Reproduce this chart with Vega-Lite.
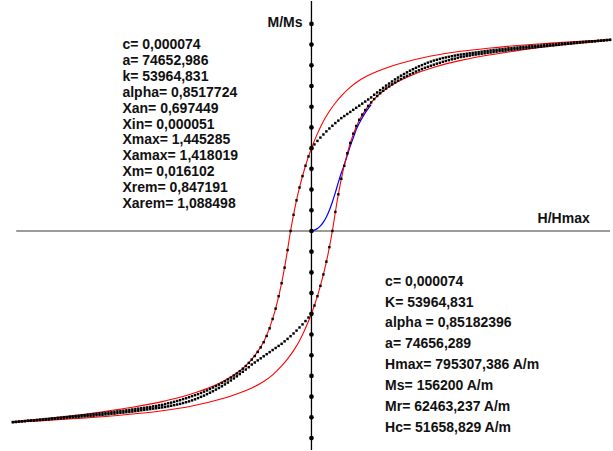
{
"$schema": "https://vega.github.io/schema/vega-lite/v6.json",
"width": 613, "height": 451,
"autosize": {"type": "fit", "contains": "padding"},
"padding": 0,
"background": "white",
"config": {"view": {"stroke": null}},
"datasets": {
"red": [
{"b":"d","h":-1,"m":-0.923},{"b":"d","h":-0.9,"m":-0.908},{"b":"d","h":-0.8,"m":-0.893},{"b":"d","h":-0.7,"m":-0.873},{"b":"d","h":-0.6,"m":-0.851},{"b":"d","h":-0.5,"m":-0.824},{"b":"d","h":-0.45,"m":-0.807},{"b":"d","h":-0.4,"m":-0.786},{"b":"d","h":-0.35,"m":-0.761},{"b":"d","h":-0.3,"m":-0.729},{"b":"d","h":-0.25,"m":-0.686},{"b":"d","h":-0.22,"m":-0.651},{"b":"d","h":-0.19,"m":-0.602},{"b":"d","h":-0.16,"m":-0.535},{"b":"d","h":-0.14,"m":-0.467},{"b":"d","h":-0.12,"m":-0.375},{"b":"d","h":-0.1,"m":-0.252},{"b":"d","h":-0.085,"m":-0.135},{"b":"d","h":-0.07,"m":0},{"b":"d","h":-0.055,"m":0.115},{"b":"d","h":-0.04,"m":0.21},{"b":"d","h":-0.02,"m":0.315},{"b":"d","h":0,"m":0.4},{"b":"d","h":0.02,"m":0.47},{"b":"d","h":0.04,"m":0.53},{"b":"d","h":0.06,"m":0.578},{"b":"d","h":0.08,"m":0.618},{"b":"d","h":0.1,"m":0.652},{"b":"d","h":0.13,"m":0.695},{"b":"d","h":0.16,"m":0.727},{"b":"d","h":0.2,"m":0.758},{"b":"d","h":0.25,"m":0.787},{"b":"d","h":0.3,"m":0.81},{"b":"d","h":0.4,"m":0.845},{"b":"d","h":0.5,"m":0.868},{"b":"d","h":0.6,"m":0.884},{"b":"d","h":0.7,"m":0.897},{"b":"d","h":0.8,"m":0.907},{"b":"d","h":0.9,"m":0.916},{"b":"d","h":1,"m":0.923},
{"b":"a","h":1,"m":0.923},{"b":"a","h":0.9,"m":0.908},{"b":"a","h":0.8,"m":0.893},{"b":"a","h":0.7,"m":0.873},{"b":"a","h":0.6,"m":0.851},{"b":"a","h":0.5,"m":0.824},{"b":"a","h":0.45,"m":0.807},{"b":"a","h":0.4,"m":0.786},{"b":"a","h":0.35,"m":0.761},{"b":"a","h":0.3,"m":0.729},{"b":"a","h":0.25,"m":0.686},{"b":"a","h":0.22,"m":0.651},{"b":"a","h":0.19,"m":0.602},{"b":"a","h":0.16,"m":0.535},{"b":"a","h":0.14,"m":0.467},{"b":"a","h":0.12,"m":0.375},{"b":"a","h":0.1,"m":0.252},{"b":"a","h":0.085,"m":0.135},{"b":"a","h":0.07,"m":0},{"b":"a","h":0.055,"m":-0.115},{"b":"a","h":0.04,"m":-0.21},{"b":"a","h":0.02,"m":-0.315},{"b":"a","h":0,"m":-0.4},{"b":"a","h":-0.02,"m":-0.47},{"b":"a","h":-0.04,"m":-0.53},{"b":"a","h":-0.06,"m":-0.578},{"b":"a","h":-0.08,"m":-0.618},{"b":"a","h":-0.1,"m":-0.652},{"b":"a","h":-0.13,"m":-0.695},{"b":"a","h":-0.16,"m":-0.727},{"b":"a","h":-0.2,"m":-0.758},{"b":"a","h":-0.25,"m":-0.787},{"b":"a","h":-0.3,"m":-0.81},{"b":"a","h":-0.4,"m":-0.845},{"b":"a","h":-0.5,"m":-0.868},{"b":"a","h":-0.6,"m":-0.884},{"b":"a","h":-0.7,"m":-0.897},{"b":"a","h":-0.8,"m":-0.907},{"b":"a","h":-0.9,"m":-0.916},{"b":"a","h":-1,"m":-0.923}
],
"blue": [
{"h":0,"m":0},{"h":0.01,"m":0.004},{"h":0.02,"m":0.012},{"h":0.03,"m":0.025},{"h":0.04,"m":0.043},{"h":0.05,"m":0.068},{"h":0.06,"m":0.1},{"h":0.07,"m":0.14},{"h":0.08,"m":0.185},{"h":0.09,"m":0.235},{"h":0.1,"m":0.28},{"h":0.11,"m":0.32},{"h":0.12,"m":0.365},{"h":0.13,"m":0.41},{"h":0.14,"m":0.45},{"h":0.15,"m":0.49},{"h":0.16,"m":0.52},{"h":0.18,"m":0.57},{"h":0.2,"m":0.61}
],
"ticks": [
{"m":-1},{"m":-0.9},{"m":-0.8},{"m":-0.7},{"m":-0.6},{"m":-0.5},{"m":-0.4},{"m":-0.3},{"m":-0.2},{"m":-0.1},{"m":0},{"m":0.1},{"m":0.2},{"m":0.3},{"m":0.4},{"m":0.5},{"m":0.6},{"m":0.7},{"m":0.8},{"m":0.9},{"m":1}
],
"dots": [
{"h":-1,"m":-0.923},{"h":-0.99,"m":-0.922},{"h":-0.98,"m":-0.92},{"h":-0.97,"m":-0.919},{"h":-0.96,"m":-0.918},{"h":-0.95,"m":-0.916},{"h":-0.94,"m":-0.915},{"h":-0.93,"m":-0.914},{"h":-0.92,"m":-0.912},{"h":-0.91,"m":-0.911},
{"h":-0.9,"m":-0.91},{"h":-0.89,"m":-0.908},{"h":-0.88,"m":-0.907},{"h":-0.87,"m":-0.905},{"h":-0.86,"m":-0.904},{"h":-0.85,"m":-0.902},{"h":-0.84,"m":-0.901},{"h":-0.83,"m":-0.899},{"h":-0.82,"m":-0.898},{"h":-0.81,"m":-0.896},
{"h":-0.8,"m":-0.895},{"h":-0.79,"m":-0.893},{"h":-0.78,"m":-0.892},{"h":-0.77,"m":-0.89},{"h":-0.76,"m":-0.889},{"h":-0.75,"m":-0.887},{"h":-0.74,"m":-0.886},{"h":-0.73,"m":-0.884},{"h":-0.72,"m":-0.883},{"h":-0.71,"m":-0.881},
{"h":-0.7,"m":-0.88},{"h":-0.69,"m":-0.878},{"h":-0.68,"m":-0.876},{"h":-0.67,"m":-0.875},{"h":-0.66,"m":-0.873},{"h":-0.65,"m":-0.871},{"h":-0.64,"m":-0.869},{"h":-0.63,"m":-0.868},{"h":-0.62,"m":-0.866},{"h":-0.61,"m":-0.864},
{"h":-0.6,"m":-0.862},{"h":-0.59,"m":-0.86},{"h":-0.58,"m":-0.858},{"h":-0.57,"m":-0.856},{"h":-0.56,"m":-0.854},{"h":-0.55,"m":-0.852},{"h":-0.54,"m":-0.85},{"h":-0.53,"m":-0.847},{"h":-0.52,"m":-0.845},{"h":-0.51,"m":-0.842},
{"h":-0.5,"m":-0.84},{"h":-0.49,"m":-0.836},{"h":-0.48,"m":-0.832},{"h":-0.47,"m":-0.829},{"h":-0.46,"m":-0.825},{"h":-0.45,"m":-0.821},{"h":-0.44,"m":-0.817},{"h":-0.43,"m":-0.812},{"h":-0.42,"m":-0.808},{"h":-0.41,"m":-0.803},
{"h":-0.4,"m":-0.798},{"h":-0.39,"m":-0.793},{"h":-0.38,"m":-0.788},{"h":-0.37,"m":-0.782},{"h":-0.36,"m":-0.776},{"h":-0.35,"m":-0.77},{"h":-0.34,"m":-0.763},{"h":-0.33,"m":-0.756},{"h":-0.32,"m":-0.749},{"h":-0.31,"m":-0.742},
{"h":-0.3,"m":-0.734},{"h":-0.29,"m":-0.726},{"h":-0.28,"m":-0.717},{"h":-0.27,"m":-0.708},{"h":-0.26,"m":-0.698},{"h":-0.25,"m":-0.688},{"h":-0.24,"m":-0.677},{"h":-0.23,"m":-0.665},{"h":-0.22,"m":-0.652},{"h":-0.21,"m":-0.637},
{"h":-0.2,"m":-0.621},{"h":-0.19,"m":-0.604},{"h":-0.18,"m":-0.584},{"h":-0.17,"m":-0.562},{"h":-0.16,"m":-0.537},{"h":-0.15,"m":-0.507},{"h":-0.14,"m":-0.47},{"h":-0.13,"m":-0.425},{"h":-0.12,"m":-0.375},{"h":-0.11,"m":-0.315},
{"h":-0.1,"m":-0.252},{"h":-0.09,"m":-0.177},{"h":-0.08,"m":-0.092},{"h":-0.07,"m":0},{"h":-0.06,"m":0.078},{"h":-0.05,"m":0.148},{"h":-0.04,"m":0.21},{"h":-0.03,"m":0.265},{"h":-0.02,"m":0.315},{"h":-0.01,"m":0.36},
{"h":0,"m":0.4},{"h":0.01,"m":0.418},{"h":0.02,"m":0.435},{"h":0.03,"m":0.451},{"h":0.04,"m":0.466},{"h":0.05,"m":0.481},{"h":0.06,"m":0.495},{"h":0.07,"m":0.508},{"h":0.08,"m":0.521},{"h":0.09,"m":0.533},
{"h":0.1,"m":0.545},{"h":0.11,"m":0.555},{"h":0.12,"m":0.565},{"h":0.13,"m":0.575},{"h":0.14,"m":0.585},{"h":0.15,"m":0.595},{"h":0.16,"m":0.605},{"h":0.17,"m":0.615},{"h":0.18,"m":0.625},{"h":0.19,"m":0.635},
{"h":0.2,"m":0.645},{"h":0.21,"m":0.658},{"h":0.22,"m":0.669},{"h":0.23,"m":0.68},{"h":0.24,"m":0.691},{"h":0.25,"m":0.702},{"h":0.26,"m":0.712},{"h":0.27,"m":0.722},{"h":0.28,"m":0.732},{"h":0.29,"m":0.741},
{"h":0.3,"m":0.75},{"h":0.31,"m":0.758},{"h":0.32,"m":0.766},{"h":0.33,"m":0.774},{"h":0.34,"m":0.781},{"h":0.35,"m":0.788},{"h":0.36,"m":0.795},{"h":0.37,"m":0.801},{"h":0.38,"m":0.807},{"h":0.39,"m":0.813},
{"h":0.4,"m":0.818},{"h":0.41,"m":0.823},{"h":0.42,"m":0.827},{"h":0.43,"m":0.831},{"h":0.44,"m":0.835},{"h":0.45,"m":0.838},{"h":0.46,"m":0.841},{"h":0.47,"m":0.844},{"h":0.48,"m":0.847},{"h":0.49,"m":0.85},
{"h":0.5,"m":0.852},{"h":0.51,"m":0.854},{"h":0.52,"m":0.856},{"h":0.53,"m":0.858},{"h":0.54,"m":0.86},{"h":0.55,"m":0.862},{"h":0.56,"m":0.864},{"h":0.57,"m":0.866},{"h":0.58,"m":0.868},{"h":0.59,"m":0.87},
{"h":0.6,"m":0.872},{"h":0.61,"m":0.874},{"h":0.62,"m":0.875},{"h":0.63,"m":0.877},{"h":0.64,"m":0.878},{"h":0.65,"m":0.88},{"h":0.66,"m":0.882},{"h":0.67,"m":0.883},{"h":0.68,"m":0.885},{"h":0.69,"m":0.886},
{"h":0.7,"m":0.888},{"h":0.71,"m":0.889},{"h":0.72,"m":0.89},{"h":0.73,"m":0.892},{"h":0.74,"m":0.893},{"h":0.75,"m":0.894},{"h":0.76,"m":0.895},{"h":0.77,"m":0.896},{"h":0.78,"m":0.898},{"h":0.79,"m":0.899},
{"h":0.8,"m":0.9},{"h":0.81,"m":0.901},{"h":0.82,"m":0.902},{"h":0.83,"m":0.904},{"h":0.84,"m":0.905},{"h":0.85,"m":0.906},{"h":0.86,"m":0.907},{"h":0.87,"m":0.908},{"h":0.88,"m":0.91},{"h":0.89,"m":0.911},
{"h":0.9,"m":0.912},{"h":0.91,"m":0.913},{"h":0.92,"m":0.914},{"h":0.93,"m":0.915},{"h":0.94,"m":0.916},{"h":0.95,"m":0.917},{"h":0.96,"m":0.918},{"h":0.97,"m":0.919},{"h":0.98,"m":0.921},{"h":0.99,"m":0.922},{"h":1,"m":0.923},
{"h":1,"m":0.923},{"h":0.99,"m":0.922},{"h":0.98,"m":0.92},{"h":0.97,"m":0.919},{"h":0.96,"m":0.918},{"h":0.95,"m":0.916},{"h":0.94,"m":0.915},{"h":0.93,"m":0.914},{"h":0.92,"m":0.912},{"h":0.91,"m":0.911},
{"h":0.9,"m":0.91},{"h":0.89,"m":0.908},{"h":0.88,"m":0.907},{"h":0.87,"m":0.905},{"h":0.86,"m":0.904},{"h":0.85,"m":0.902},{"h":0.84,"m":0.901},{"h":0.83,"m":0.899},{"h":0.82,"m":0.898},{"h":0.81,"m":0.896},
{"h":0.8,"m":0.895},{"h":0.79,"m":0.893},{"h":0.78,"m":0.892},{"h":0.77,"m":0.89},{"h":0.76,"m":0.889},{"h":0.75,"m":0.887},{"h":0.74,"m":0.886},{"h":0.73,"m":0.884},{"h":0.72,"m":0.883},{"h":0.71,"m":0.881},
{"h":0.7,"m":0.88},{"h":0.69,"m":0.878},{"h":0.68,"m":0.876},{"h":0.67,"m":0.875},{"h":0.66,"m":0.873},{"h":0.65,"m":0.871},{"h":0.64,"m":0.869},{"h":0.63,"m":0.868},{"h":0.62,"m":0.866},{"h":0.61,"m":0.864},
{"h":0.6,"m":0.862},{"h":0.59,"m":0.86},{"h":0.58,"m":0.858},{"h":0.57,"m":0.856},{"h":0.56,"m":0.854},{"h":0.55,"m":0.852},{"h":0.54,"m":0.85},{"h":0.53,"m":0.847},{"h":0.52,"m":0.845},{"h":0.51,"m":0.842},
{"h":0.5,"m":0.84},{"h":0.49,"m":0.836},{"h":0.48,"m":0.832},{"h":0.47,"m":0.829},{"h":0.46,"m":0.825},{"h":0.45,"m":0.821},{"h":0.44,"m":0.817},{"h":0.43,"m":0.812},{"h":0.42,"m":0.808},{"h":0.41,"m":0.803},
{"h":0.4,"m":0.798},{"h":0.39,"m":0.793},{"h":0.38,"m":0.788},{"h":0.37,"m":0.782},{"h":0.36,"m":0.776},{"h":0.35,"m":0.77},{"h":0.34,"m":0.763},{"h":0.33,"m":0.756},{"h":0.32,"m":0.749},{"h":0.31,"m":0.742},
{"h":0.3,"m":0.734},{"h":0.29,"m":0.726},{"h":0.28,"m":0.717},{"h":0.27,"m":0.708},{"h":0.26,"m":0.698},{"h":0.25,"m":0.688},{"h":0.24,"m":0.677},{"h":0.23,"m":0.665},{"h":0.22,"m":0.652},{"h":0.21,"m":0.637},
{"h":0.2,"m":0.621},{"h":0.19,"m":0.604},{"h":0.18,"m":0.584},{"h":0.17,"m":0.562},{"h":0.16,"m":0.537},{"h":0.15,"m":0.507},{"h":0.14,"m":0.47},{"h":0.13,"m":0.425},{"h":0.12,"m":0.375},{"h":0.11,"m":0.315},
{"h":0.1,"m":0.252},{"h":0.09,"m":0.177},{"h":0.08,"m":0.092},{"h":0.07,"m":0},{"h":0.06,"m":-0.078},{"h":0.05,"m":-0.148},{"h":0.04,"m":-0.21},{"h":0.03,"m":-0.265},{"h":0.02,"m":-0.315},{"h":0.01,"m":-0.36},
{"h":0,"m":-0.4},{"h":-0.01,"m":-0.418},{"h":-0.02,"m":-0.435},{"h":-0.03,"m":-0.451},{"h":-0.04,"m":-0.466},{"h":-0.05,"m":-0.481},{"h":-0.06,"m":-0.495},{"h":-0.07,"m":-0.508},{"h":-0.08,"m":-0.521},{"h":-0.09,"m":-0.533},
{"h":-0.1,"m":-0.545},{"h":-0.11,"m":-0.555},{"h":-0.12,"m":-0.565},{"h":-0.13,"m":-0.575},{"h":-0.14,"m":-0.585},{"h":-0.15,"m":-0.595},{"h":-0.16,"m":-0.605},{"h":-0.17,"m":-0.615},{"h":-0.18,"m":-0.625},{"h":-0.19,"m":-0.635},
{"h":-0.2,"m":-0.645},{"h":-0.21,"m":-0.658},{"h":-0.22,"m":-0.669},{"h":-0.23,"m":-0.68},{"h":-0.24,"m":-0.691},{"h":-0.25,"m":-0.702},{"h":-0.26,"m":-0.712},{"h":-0.27,"m":-0.722},{"h":-0.28,"m":-0.732},{"h":-0.29,"m":-0.741},
{"h":-0.3,"m":-0.75},{"h":-0.31,"m":-0.758},{"h":-0.32,"m":-0.766},{"h":-0.33,"m":-0.774},{"h":-0.34,"m":-0.781},{"h":-0.35,"m":-0.788},{"h":-0.36,"m":-0.795},{"h":-0.37,"m":-0.801},{"h":-0.38,"m":-0.807},{"h":-0.39,"m":-0.813},
{"h":-0.4,"m":-0.818},{"h":-0.41,"m":-0.823},{"h":-0.42,"m":-0.827},{"h":-0.43,"m":-0.831},{"h":-0.44,"m":-0.835},{"h":-0.45,"m":-0.838},{"h":-0.46,"m":-0.841},{"h":-0.47,"m":-0.844},{"h":-0.48,"m":-0.847},{"h":-0.49,"m":-0.85},
{"h":-0.5,"m":-0.852},{"h":-0.51,"m":-0.854},{"h":-0.52,"m":-0.856},{"h":-0.53,"m":-0.858},{"h":-0.54,"m":-0.86},{"h":-0.55,"m":-0.862},{"h":-0.56,"m":-0.864},{"h":-0.57,"m":-0.866},{"h":-0.58,"m":-0.868},{"h":-0.59,"m":-0.87},
{"h":-0.6,"m":-0.872},{"h":-0.61,"m":-0.874},{"h":-0.62,"m":-0.875},{"h":-0.63,"m":-0.877},{"h":-0.64,"m":-0.878},{"h":-0.65,"m":-0.88},{"h":-0.66,"m":-0.882},{"h":-0.67,"m":-0.883},{"h":-0.68,"m":-0.885},{"h":-0.69,"m":-0.886},
{"h":-0.7,"m":-0.888},{"h":-0.71,"m":-0.889},{"h":-0.72,"m":-0.89},{"h":-0.73,"m":-0.892},{"h":-0.74,"m":-0.893},{"h":-0.75,"m":-0.894},{"h":-0.76,"m":-0.895},{"h":-0.77,"m":-0.896},{"h":-0.78,"m":-0.898},{"h":-0.79,"m":-0.899},
{"h":-0.8,"m":-0.9},{"h":-0.81,"m":-0.901},{"h":-0.82,"m":-0.902},{"h":-0.83,"m":-0.904},{"h":-0.84,"m":-0.905},{"h":-0.85,"m":-0.906},{"h":-0.86,"m":-0.907},{"h":-0.87,"m":-0.908},{"h":-0.88,"m":-0.91},{"h":-0.89,"m":-0.911},
{"h":-0.9,"m":-0.912},{"h":-0.91,"m":-0.913},{"h":-0.92,"m":-0.914},{"h":-0.93,"m":-0.915},{"h":-0.94,"m":-0.916},{"h":-0.95,"m":-0.917},{"h":-0.96,"m":-0.918},{"h":-0.97,"m":-0.919},{"h":-0.98,"m":-0.921},{"h":-0.99,"m":-0.922},{"h":-1,"m":-0.923}
]
},
"layer": [
{"data": {"values": [{}]},
 "mark": {"type": "rule", "color": "#7a7a7a", "strokeWidth": 1.6},
 "encoding": {
  "x": {"datum": -0.989, "type": "quantitative", "scale": {"domain": [-1.0433, 1.0], "nice": false, "zero": false}, "axis": null},
  "x2": {"datum": 1.0},
  "y": {"datum": 0, "type": "quantitative", "scale": {"domain": [-1.0577, 1.1106], "nice": false, "zero": false}, "axis": null}}},
{"data": {"values": [{}]},
 "mark": {"type": "rule", "color": "#000000", "strokeWidth": 1.3},
 "encoding": {
  "x": {"datum": 0, "type": "quantitative", "scale": {"domain": [-1.0433, 1.0], "nice": false, "zero": false}, "axis": null}}},
{"data": {"name": "blue"},
 "mark": {"type": "line", "color": "#0000ff", "strokeWidth": 1.2, "interpolate": "monotone"},
 "encoding": {
  "x": {"field": "h", "type": "quantitative", "scale": {"domain": [-1.0433, 1.0], "nice": false, "zero": false}, "axis": null},
  "y": {"field": "m", "type": "quantitative", "scale": {"domain": [-1.0577, 1.1106], "nice": false, "zero": false}, "axis": null}}},
{"data": {"name": "red"},
 "mark": {"type": "line", "color": "#ff0000", "strokeWidth": 1.1, "interpolate": "monotone"},
 "encoding": {
  "x": {"field": "h", "type": "quantitative", "scale": {"domain": [-1.0433, 1.0], "nice": false, "zero": false}, "axis": null},
  "y": {"field": "m", "type": "quantitative", "scale": {"domain": [-1.0577, 1.1106], "nice": false, "zero": false}, "axis": null},
  "detail": {"field": "b", "type": "nominal"}}},
{"data": {"name": "dots"},
 "mark": {"type": "point", "shape": "square", "filled": true, "size": 6, "color": "#000000", "opacity": 1},
 "encoding": {
  "x": {"field": "h", "type": "quantitative", "scale": {"domain": [-1.0433, 1.0], "nice": false, "zero": false}, "axis": null},
  "y": {"field": "m", "type": "quantitative", "scale": {"domain": [-1.0577, 1.1106], "nice": false, "zero": false}, "axis": null}}},
{"data": {"name": "ticks"},
 "mark": {"type": "point", "shape": "circle", "filled": true, "size": 22, "color": "#000000", "opacity": 1},
 "encoding": {
  "x": {"datum": 0, "type": "quantitative", "scale": {"domain": [-1.0433, 1.0], "nice": false, "zero": false}, "axis": null},
  "y": {"field": "m", "type": "quantitative", "scale": {"domain": [-1.0577, 1.1106], "nice": false, "zero": false}, "axis": null}}},
{"data": {"values": [{"txt": "c= 0,000074\na= 74652,986\nk= 53964,831\nalpha= 0,8517724\nXan= 0,697449\nXin= 0,000051\nXmax= 1,445285\nXamax= 1,418019\nXm= 0,016102\nXrem= 0,847191\nXarem= 1,088498"}]},
 "mark": {"type": "text", "font": "Liberation Sans", "fontWeight": "bold", "fontSize": 14, "color": "#111111", "align": "left", "baseline": "alphabetic", "lineBreak": "\n", "lineHeight": 15.95},
 "encoding": {
  "x": {"datum": -0.6333, "type": "quantitative", "scale": {"domain": [-1.0433, 1.0], "nice": false, "zero": false}, "axis": null},
  "y": {"datum": 0.8798, "type": "quantitative", "scale": {"domain": [-1.0577, 1.1106], "nice": false, "zero": false}, "axis": null},
  "text": {"field": "txt"}}},
{"data": {"values": [{"txt": "c= 0,000074\nK= 53964,831\nalpha = 0,85182396\na= 74656,289\nHmax= 795307,386 A/m\nMs= 156200 A/m\nMr= 62463,237 A/m\nHc= 51658,829 A/m"}]},
 "mark": {"type": "text", "font": "Liberation Sans", "fontWeight": "bold", "fontSize": 14, "color": "#111111", "align": "left", "baseline": "alphabetic", "lineBreak": "\n", "lineHeight": 20.86},
 "encoding": {
  "x": {"datum": 0.2467, "type": "quantitative", "scale": {"domain": [-1.0433, 1.0], "nice": false, "zero": false}, "axis": null},
  "y": {"datum": -0.2644, "type": "quantitative", "scale": {"domain": [-1.0577, 1.1106], "nice": false, "zero": false}, "axis": null},
  "text": {"field": "txt"}}},
{"data": {"values": [{"txt": "M/Ms"}]},
 "mark": {"type": "text", "font": "Liberation Sans", "fontWeight": "bold", "fontSize": 14, "color": "#111111", "align": "right", "baseline": "alphabetic"},
 "encoding": {
  "x": {"datum": -0.03, "type": "quantitative", "scale": {"domain": [-1.0433, 1.0], "nice": false, "zero": false}, "axis": null},
  "y": {"datum": 0.9856, "type": "quantitative", "scale": {"domain": [-1.0577, 1.1106], "nice": false, "zero": false}, "axis": null},
  "text": {"field": "txt"}}},
{"data": {"values": [{"txt": "H/Hmax"}]},
 "mark": {"type": "text", "font": "Liberation Sans", "fontWeight": "bold", "fontSize": 14, "color": "#111111", "align": "center", "baseline": "alphabetic"},
 "encoding": {
  "x": {"datum": 0.8447, "type": "quantitative", "scale": {"domain": [-1.0433, 1.0], "nice": false, "zero": false}, "axis": null},
  "y": {"datum": 0.0409, "type": "quantitative", "scale": {"domain": [-1.0577, 1.1106], "nice": false, "zero": false}, "axis": null},
  "text": {"field": "txt"}}}
]
}
